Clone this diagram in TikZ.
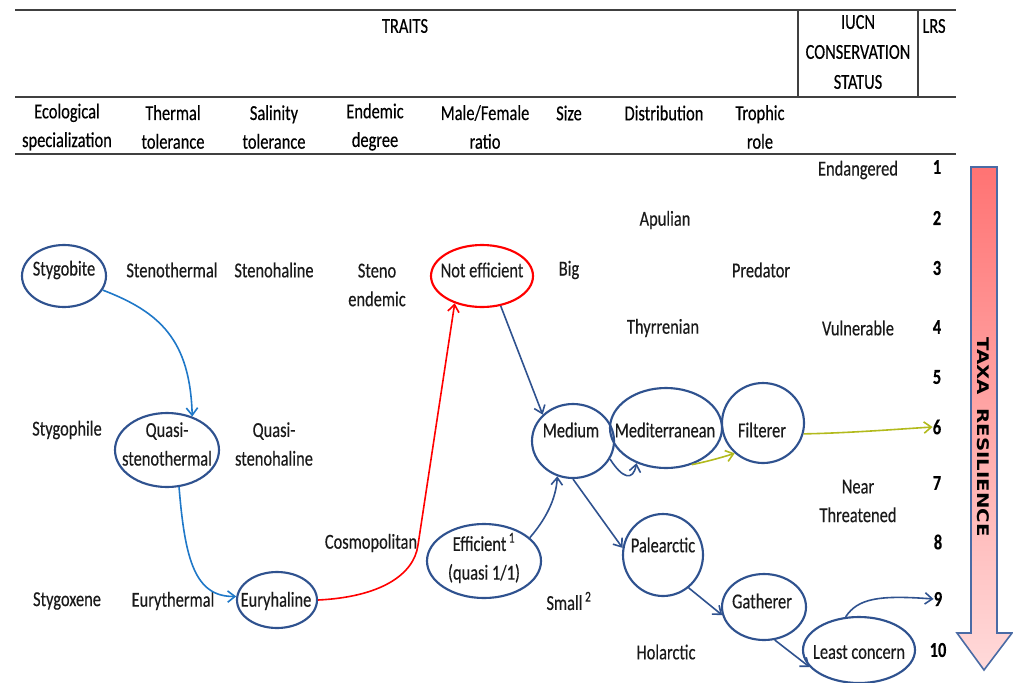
\documentclass[tikz,border=0pt]{standalone}
\usepackage{fontspec}
\setmainfont{Carlito}[FakeStretch=0.77,FakeBold=0.35]
\newfontfamily\arrowfont{DejaVu Sans}
\usetikzlibrary{shapes.geometric,arrows.meta}
\definecolor{ellblue}{HTML}{2F528F}
\definecolor{brblue}{HTML}{1F78C8}
\definecolor{olivec}{HTML}{B2BA1C}
\definecolor{txt}{HTML}{1A1A1A}
\definecolor{arrtop}{HTML}{FF7373}
\definecolor{arrbot}{HTML}{FFDADA}
\definecolor{arredge}{HTML}{4A6BA5}
\definecolor{rule}{HTML}{404040}
\begin{document}
\begin{tikzpicture}[x=0.75pt,y=-0.75pt,
  lbl/.style={text=txt, align=center, inner sep=0pt, font=\fontsize{16}{21.5}\selectfont},
  hdr/.style={lbl, text=black},
  num/.style={lbl, text=black, font=\fontsize{16}{21.5}\selectfont\bfseries},
  ell/.style n args={2}{ellipse, draw=ellblue, line width=1.6pt, inner sep=0pt,
     minimum width={#1*1.5pt}, minimum height={#2*1.5pt}},
  conn/.style={line width=1.2pt, -{Straight Barb[length=5.5pt,width=8.5pt]}},
  tab/.style={draw=rule, line width=1.1pt}
]
\useasboundingbox (0,0) rectangle (1013,682);

% table rules
\draw[tab] (15,10) -- (956,10);
\draw[tab] (15,97) -- (956,97);
\draw[tab] (15,154) -- (956,154);
\draw[tab] (798,10) -- (798,97);
\draw[tab] (918,10) -- (918,97);

% header
\node[hdr] (traits) at (405,26) {TRAITS};
\node[hdr, font=\fontsize{16}{22.5}\selectfont] (iucn) at (858,52) {IUCN\\CONSERVATION\\STATUS};
\node[hdr] (lrs) at (934,26) {LRS};
\node[hdr] (h1) at (67,127) {Ecological\\specialization};
\node[hdr] (h2) at (173,127) {Thermal\\tolerance};
\node[hdr] (h3) at (274,127) {Salinity\\tolerance};
\node[hdr] (h4) at (375,127) {Endemic\\degree};
\node[hdr] (h5) at (485,127) {Male/Female\\ratio};
\node[hdr] (h6) at (569,113) {Size};
\node[hdr] (h7) at (664,113) {Distribution};
\node[hdr] (h8) at (760,127) {Trophic\\role};

% LRS numbers
\node[num] (n1) at (937,167) {1};
\node[num] (n2) at (937,218) {2};
\node[num] (n3) at (937,268) {3};
\node[num] (n4) at (937,327) {4};
\node[num] (n5) at (937,377) {5};
\node[num] (n6) at (937,427) {6};
\node[num] (n7) at (937,483) {7};
\node[num] (n8) at (938,542) {8};
\node[num] (n9) at (938,599) {9};
\node[num] (n10) at (938,650) {10};

% plain labels
\node[lbl] (endangered) at (858,170) {Endangered};
\node[lbl] (apulian) at (665,220) {Apulian};
\node[lbl] (stenothermal) at (172,270) {Stenothermal};
\node[lbl] (stenohaline) at (274,270) {Stenohaline};
\node[lbl] (steno) at (377,285) {Steno\\endemic};
\node[lbl] (big) at (569,270) {Big};
\node[lbl] (predator) at (761,270) {Predator};
\node[lbl] (thyrrenian) at (663,328) {Thyrrenian};
\node[lbl] (vulnerable) at (858,328) {Vulnerable};
\node[lbl] (stygophile) at (67,430) {Stygophile};
\node[lbl] (qhaline) at (274,444) {Quasi-\\stenohaline};
\node[lbl] (nearthr) at (858,501) {Near\\Threatened};
\node[lbl] (cosmo) at (371,543) {Cosmopolitan};
\node[lbl] (stygoxene) at (67,601) {Stygoxene};
\node[lbl] (eurythermal) at (173,601) {Eurythermal};
\node[lbl] (small) at (569,601) {Small\textsuperscript{\,2}};
\node[lbl] (holarctic) at (666,652) {Holarctic};

% ellipses
\node[ell={42}{31}] (stygobite) at (64,276) {};
\node[lbl] (stygobitet) at (64,270) {Stygobite};
\node[ell={51}{31}, draw=red] (notefficient) at (482,276) {};
\node[lbl] (notefft) at (482,270) {Not efficient};
\node[ell={52}{37}] (quasi) at (167,450) {};
\node[lbl] (quasit) at (167,444) {Quasi-\\stenothermal};
\node[ell={41}{37}] (medium) at (573,441) {};
\node[lbl] (mediumt) at (571,430) {Medium};
\node[ell={56}{40}] (medit) at (666,428) {};
\node[lbl] (meditt) at (665,430) {Mediterranean};
\node[ell={41}{40}] (filterer) at (763,423) {};
\node[lbl] (filterert) at (762,430) {Filterer};
\node[ell={57}{37}] (efficient) at (484,561) {};
\node[lbl] (efficientt) at (484,558) {Efficient\textsuperscript{\,1}\\(quasi 1/1)};
\node[ell={40}{41}] (palearctic) at (663,555) {};
\node[lbl] (palearctict) at (663,545) {Palearctic};
\node[ell={40}{28}] (euryhaline) at (277,600) {};
\node[lbl] (euryhalinet) at (276,601) {Euryhaline};
\node[ell={42}{33}] (gatherer) at (764,607) {};
\node[lbl] (gatherert) at (762,601) {Gatherer};
\node[ell={56}{33}] (least) at (859,650) {};
\node[lbl] (leastt) at (859,652) {Least concern};

% connectors
\draw[conn, brblue] (stygobite.-20) .. controls (160,312) and (190,340) .. (quasi.53);
\draw[conn, brblue] (quasi.-72) .. controls (185,560) and (195,597) .. (euryhaline.175);
\coordinate (redbend) at (418,545);
\draw[conn, red] (euryhaline.east) .. controls (380,597) and (414,575) .. (redbend) -- (notefficient.-135);
\draw[conn, ellblue] (notefficient.-58) -- (medium.139);
\draw[conn, ellblue] (efficient.27) .. controls (545,520) and (556,500) .. (medium.-114);
\draw[conn, ellblue] (medium.-26) .. controls (622,478) and (633,482) .. (medit.-130);
\draw[conn, olivec] (medit.-55) .. controls (705,462) and (720,458) .. (filterer.-133);
\draw[conn, olivec] (filterer.-15) .. controls (850,433) and (900,429) .. (n6.west);
\draw[conn, ellblue] (medium.-90) -- (palearctic.170);
\draw[conn, ellblue] (palearctic.-52) -- (gatherer.-169);
\draw[conn, ellblue] (gatherer.-72) -- (least.-161);
\draw[conn, ellblue] (least.112) .. controls (858,598) and (880,595) .. (n9.west);

% resilience arrow
\path[draw=arredge, line width=1.2pt, top color=arrtop, bottom color=arrbot]
  (971,167) -- (997,167) -- (997,633) -- (1012,633) -- (984,670) -- (957,633) -- (971,633) -- cycle;
\node[rotate=-90, inner sep=0pt, font=\arrowfont\bfseries\fontsize{12}{12}\selectfont] (taxa) at (983,437)
  {\scalebox{1.23}[1]{TAXA\ \ RESILIENCE}};
\end{tikzpicture}
\end{document}
